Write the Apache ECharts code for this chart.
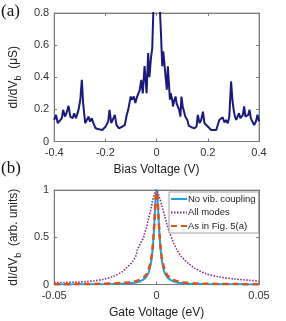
<!DOCTYPE html>
<html><head><meta charset="utf-8">
<script src="https://cdn.jsdelivr.net/npm/echarts@6/dist/echarts.min.js"></script>
<style>html,body{margin:0;padding:0;background:#fff}#c{width:286px;height:321px}</style>
</head><body><div id="c"></div>
<script>
// Panel (a): bias sweep
const biasV = [-0.400,-0.393,-0.386,-0.380,-0.370,-0.365,-0.358,-0.352,-0.344,-0.337,-0.328,-0.322,-0.315,-0.305,-0.298,-0.292,-0.287,-0.279,-0.273,-0.266,-0.260,-0.253,-0.247,-0.238,-0.225,-0.212,-0.199,-0.189,-0.184,-0.177,-0.171,-0.163,-0.157,-0.147,-0.134,-0.124,-0.118,-0.111,-0.106,-0.101,-0.096,-0.089,-0.083,-0.076,-0.070,-0.066,-0.060,-0.054,-0.047,-0.039,-0.033,-0.028,-0.022,-0.017,-0.012,-0.008,-0.004,0,0.004,0.009,0.014,0.017,0.022,0.026,0.029,0.035,0.040,0.044,0.048,0.052,0.055,0.061,0.064,0.068,0.074,0.078,0.084,0.088,0.093,0.097,0.102,0.107,0.112,0.120,0.126,0.136,0.148,0.156,0.161,0.168,0.174,0.181,0.187,0.194,0.200,0.207,0.213,0.219,0.233,0.239,0.245,0.252,0.258,0.265,0.271,0.278,0.284,0.291,0.296,0.301,0.306,0.311,0.316,0.322,0.327,0.332,0.337,0.342,0.347,0.353,0.358,0.363,0.368,0.374,0.381,0.388,0.394,0.400];
const dIdV_a = [0.134,0.166,0.114,0.103,0.145,0.197,0.155,0.176,0.222,0.155,0.145,0.176,0.145,0.197,0.26,0.384,0.239,0.114,0.124,0.155,0.124,0.145,0.114,0.082,0.076,0.072,0.093,0.124,0.197,0.114,0.114,0.166,0.103,0.082,0.093,0.103,0.155,0.197,0.239,0.28,0.26,0.28,0.239,0.28,0.27,0.32,0.384,0.30,0.47,0.30,0.55,0.40,0.52,0.58,0.85,1.4,1.6,1.3,1.6,1.2,0.78,0.676,0.468,0.561,0.51,0.405,0.322,0.468,0.364,0.26,0.30,0.26,0.218,0.249,0.28,0.239,0.249,0.197,0.155,0.28,0.218,0.228,0.155,0.134,0.097,0.089,0.082,0.093,0.166,0.114,0.134,0.186,0.114,0.103,0.093,0.082,0.072,0.061,0.072,0.103,0.134,0.124,0.151,0.118,0.134,0.114,0.155,0.374,0.26,0.197,0.155,0.134,0.134,0.176,0.145,0.155,0.166,0.218,0.155,0.145,0.166,0.197,0.145,0.124,0.103,0.124,0.166,0.124];
const biasTicks = [-0.4,-0.2,0,0.2,0.4];
const condTicks = [0,0.2,0.4,0.6,0.8];

// Panel (b): gate sweep
const gateV = [-0.05,-0.045,-0.04,-0.035,-0.03,-0.026,-0.0215,-0.0167,-0.015,-0.0118,-0.01,-0.0094,-0.008,-0.0063,-0.006,-0.005,-0.004,-0.0039,-0.003,-0.0025,-0.002,-0.0015,-0.001,-0.0005,0,0.0005,0.001,0.0015,0.002,0.0025,0.003,0.004,0.005,0.006,0.0081,0.0099,0.0123,0.0155,0.0188,0.0236,0.030,0.038,0.045,0.05];
const noVib = [0.001,0.0011,0.0014,0.0018,0.0025,0.0033,0.0048,0.008,0.01,0.016,0.022,0.025,0.034,0.054,0.059,0.083,0.12,0.125,0.2,0.265,0.36,0.5,0.69,0.9,1,0.9,0.69,0.5,0.36,0.265,0.2,0.12,0.083,0.059,0.033,0.022,0.015,0.009,0.006,0.004,0.0025,0.0016,0.0012,0.001];
const allModes = [0.02,0.022,0.025,0.03,0.04,0.055,0.083,0.135,0.17,0.24,0.31,0.365,0.43,0.5,0.53,0.6,0.69,0.7,0.78,0.83,0.88,0.93,0.96,0.99,1,0.98,0.95,0.91,0.88,0.84,0.8,0.72,0.64,0.57,0.45,0.37,0.29,0.224,0.17,0.118,0.082,0.058,0.045,0.035];
const fig5a = [0.003,0.0035,0.004,0.005,0.006,0.008,0.011,0.016,0.019,0.028,0.036,0.04,0.052,0.075,0.082,0.105,0.15,0.155,0.23,0.29,0.38,0.51,0.69,0.9,0.98,0.9,0.69,0.51,0.38,0.29,0.23,0.15,0.105,0.082,0.05,0.036,0.025,0.016,0.011,0.008,0.006,0.0045,0.0035,0.003];
const gateTicks = [-0.05,0,0.05];
const normTicks = [0,0.5,1];

const pairs = (xs, ys) => xs.map((x, i) => [x, ys[i]]);
const tickFmt = v => (Math.abs(v) < 1e-9 ? '0' : String(+v.toFixed(3)));
const labelStyle = {color:'#333', fontSize:11, fontFamily:'Liberation Sans, Arial, sans-serif'};
const axisLineC = '#7a7a7a';
function xAx(gi, min, max, interval, name, main) {
  return {type:'value', gridIndex:gi, min, max, interval, position: main ? 'bottom':'top',
    axisLine:{show:true, onZero:false, lineStyle:{color:axisLineC, width:1}},
    axisTick:{show:true, inside:true, length:3, lineStyle:{color:axisLineC}},
    axisLabel:{show:main, margin:6, formatter:tickFmt, ...labelStyle, hideOverlap:false, showMinLabel:true, showMaxLabel:true},
    splitLine:{show:false},
    name: main ? name : '', nameLocation:'middle', nameGap:22,
    nameTextStyle:{color:'#222', fontSize:12, fontFamily:'Liberation Sans, Arial, sans-serif'}};
}
function yAx(gi, min, max, interval, nameRich, main, gap) {
  return {type:'value', gridIndex:gi, min, max, interval, position: main ? 'left':'right',
    axisLine:{show:true, onZero:false, lineStyle:{color:axisLineC, width:1}},
    axisTick:{show:true, inside:true, length:3, lineStyle:{color:axisLineC}},
    axisLabel:{show:main, margin:5, formatter:tickFmt, ...labelStyle, showMinLabel:true, showMaxLabel:true},
    splitLine:{show:false},
    name: main ? nameRich : '', nameLocation:'middle', nameGap:gap, nameRotate:90,
    nameTextStyle:{color:'#222', fontSize:12, fontFamily:'Liberation Sans, Arial, sans-serif',
      rich:{
        t:{fontSize:12, lineHeight:12, verticalAlign:'top', color:'#222', fontFamily:'Liberation Sans, Arial, sans-serif'},
        s:{fontSize:9, lineHeight:15, verticalAlign:'bottom', color:'#222', fontFamily:'Liberation Sans, Arial, sans-serif'}
      }}};
}

const chart = echarts.init(document.getElementById('c'), null, {renderer:'canvas'});
chart.setOption({
  backgroundColor:'#fff',
  animation:false,
  grid:[
    {left:52, top:13, width:207, height:128.5, show:true, borderColor:'#a0a0a0', borderWidth:1, containLabel:false},
    {left:53, top:190, width:206, height:94.5, show:true, borderColor:'#a0a0a0', borderWidth:1, containLabel:false}
  ],
  xAxis:[
    xAx(0,-0.4,0.4,0.2,'Bias Voltage (V)',true),
    xAx(0,-0.4,0.4,0.2,'',false),
    xAx(1,-0.05,0.05,0.05,'Gate Voltage (eV)',true),
    xAx(1,-0.05,0.05,0.05,'',false)
  ],
  yAxis:[
    yAx(0,0,0.8,0.2,'{t|dI/dV}{s|b}{t|  (μS)}',true,31),
    yAx(0,0,0.8,0.2,'',false,0),
    yAx(1,0,1,0.5,'{t|dI/dV}{s|b}{t|  (arb. units)}',true,31),
    yAx(1,0,1,0.5,'',false,0)
  ],
  legend:{
    show:true, orient:'vertical', left:169, top:192, width:88,
    data:['No vib. coupling','All modes','As in Fig. 5(a)'],
    itemWidth:16, itemHeight:8, itemGap:3.5, padding:[2,3,2,1],
    itemStyle:{opacity:0},
    backgroundColor:'#fff', borderColor:'#a0a0a0', borderWidth:1, borderRadius:0,
    textStyle:{color:'#222', fontSize:9.5, fontFamily:'Liberation Sans, Arial, sans-serif', padding:[0,0,0,-4]}
  },
  series:[
    {type:'line', xAxisIndex:0, yAxisIndex:0, data:pairs(biasV,dIdV_a), symbol:'none', clip:true,
      lineStyle:{color:'#1b1a7a', width:2}, itemStyle:{color:'#1b1a7a'}},
    {name:'No vib. coupling', type:'line', xAxisIndex:2, yAxisIndex:2, data:pairs(gateV,noVib), symbol:'none', smooth:0.3,
      lineStyle:{color:'#1ea0e6', width:2}, itemStyle:{color:'#1ea0e6'}},
    {name:'All modes', type:'line', xAxisIndex:2, yAxisIndex:2, data:pairs(gateV,allModes), symbol:'none', smooth:0.3,
      lineStyle:{color:'#7E2F8E', width:1.6, type:[1.5,1.5]}, itemStyle:{color:'#7E2F8E'}},
    {name:'As in Fig. 5(a)', type:'line', xAxisIndex:2, yAxisIndex:2, data:pairs(gateV,fig5a), symbol:'none', smooth:0.3,
      lineStyle:{color:'#D95319', width:2.5, type:[6,4]}, itemStyle:{color:'#D95319'}}
  ],
  graphic:[
    {type:'text', left:1, top:3, style:{text:'(a)', fontSize:17, fill:'#111', fontFamily:'Liberation Serif, Times New Roman, serif'}},
    {type:'text', left:1, top:160, style:{text:'(b)', fontSize:17, fill:'#111', fontFamily:'Liberation Serif, Times New Roman, serif'}}
  ]
});
</script></body></html>
